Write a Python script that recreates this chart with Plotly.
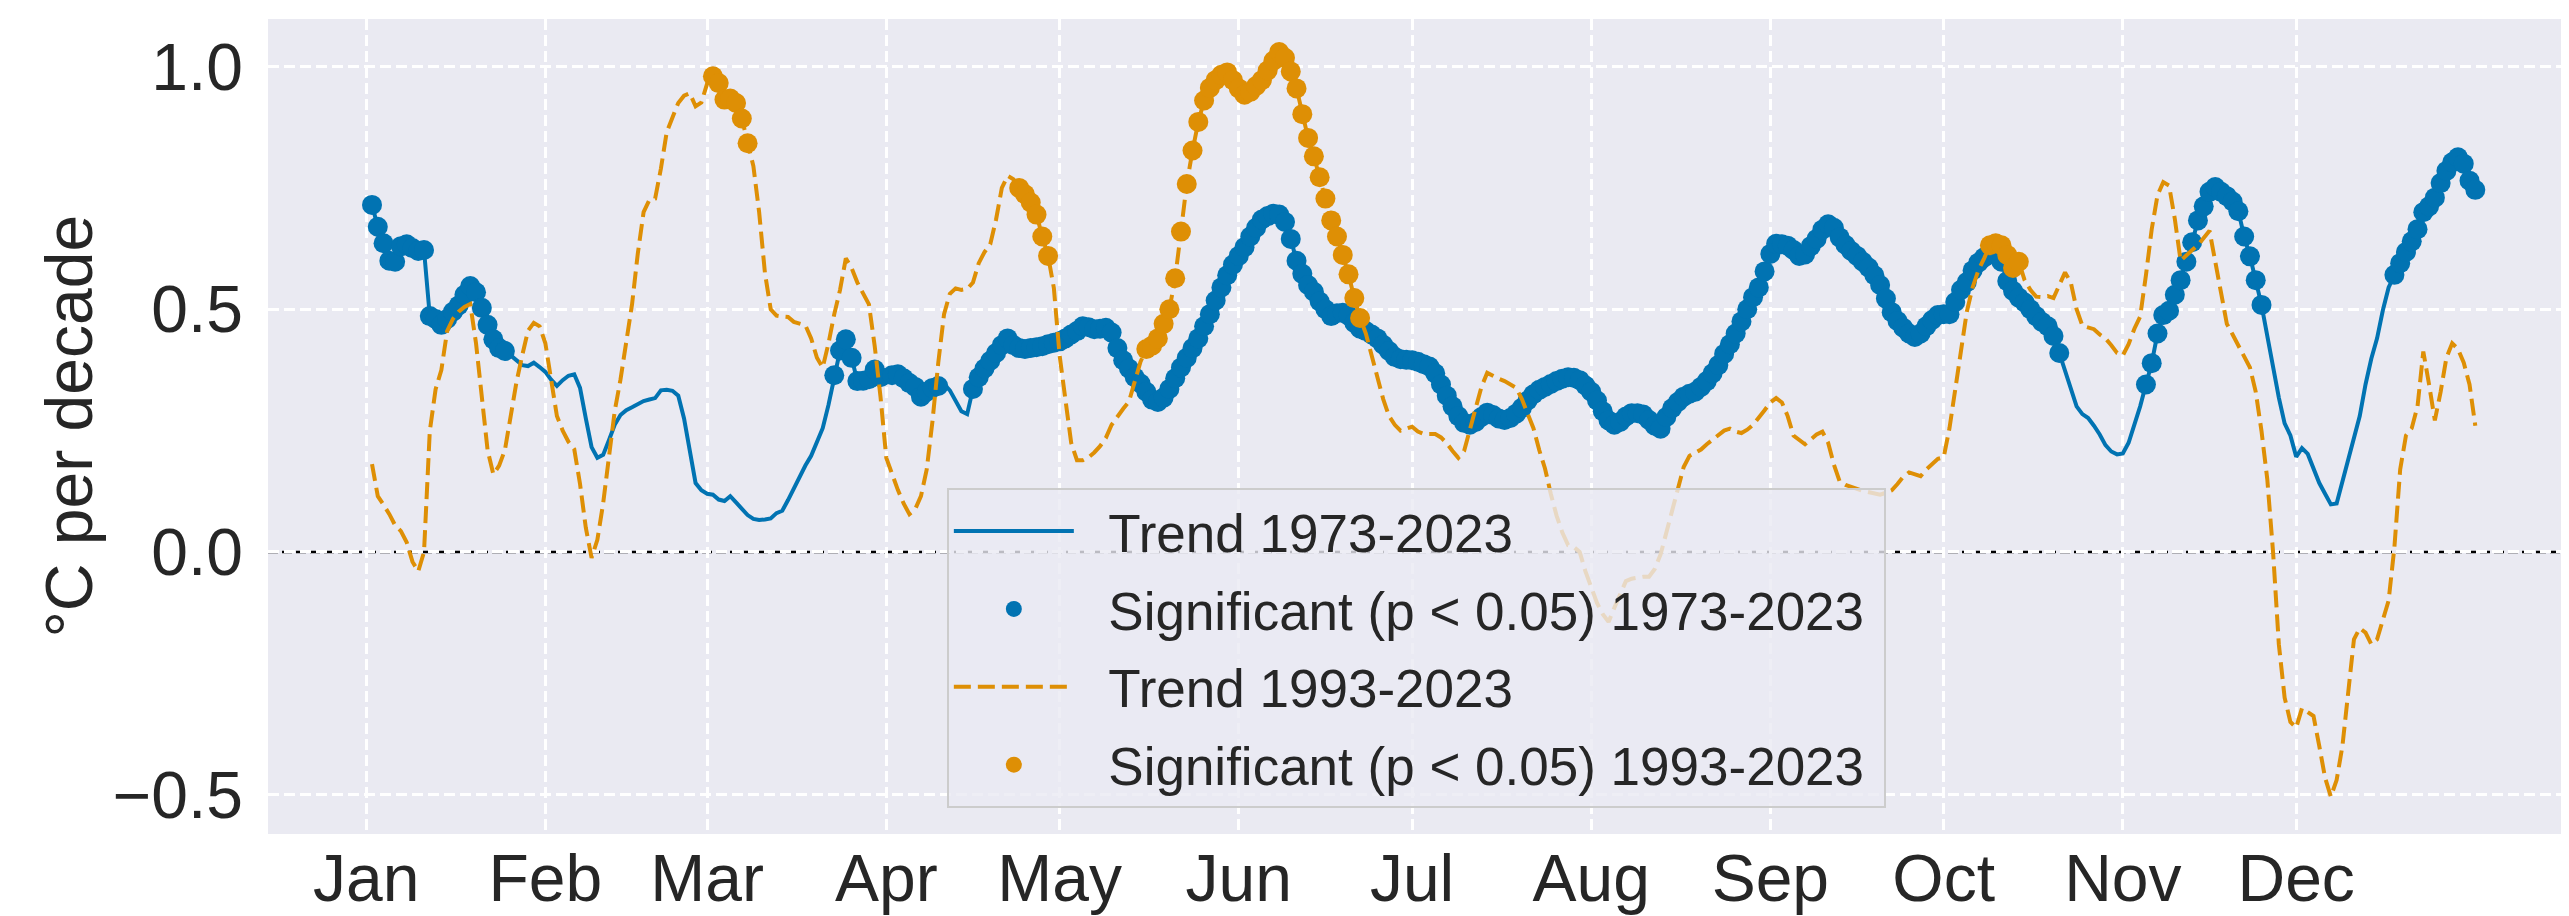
import plotly.graph_objects as go

# ---------------- data ----------------
month_days = [1, 32, 60, 91, 121, 152, 182, 213, 244, 274, 305, 335]
month_labels = ["Jan", "Feb", "Mar", "Apr", "May", "Jun",
                "Jul", "Aug", "Sep", "Oct", "Nov", "Dec"]
y_ticks = [-0.5, 0.0, 0.5, 1.0]

first_day = 2  # day-of-year of the first value

# Trend 1973-2023 (degC per decade), one value per day starting at day 2
trend_1973 = [
    0.715, 0.670, 0.636, 0.600, 0.598, 0.630, 0.634, 0.626, 0.620, 0.622,  # d2
    0.486, 0.480, 0.468, 0.480, 0.495, 0.508, 0.530, 0.548, 0.535, 0.503,  # d12
    0.468, 0.438, 0.420, 0.414, 0.405, 0.395, 0.385, 0.383, 0.390, 0.381,  # d22
    0.371, 0.355, 0.342, 0.354, 0.363, 0.366, 0.338, 0.275, 0.216, 0.194,  # d32
    0.200, 0.230, 0.262, 0.282, 0.292, 0.298, 0.305, 0.311, 0.314, 0.317,  # d42
    0.333, 0.334, 0.332, 0.322, 0.275, 0.205, 0.142, 0.127, 0.120, 0.118,  # d52
    0.108, 0.105, 0.115, 0.102, 0.088, 0.076, 0.068, 0.066, 0.067, 0.069,  # d62
    0.080, 0.085, 0.107, 0.131, 0.156, 0.178, 0.198, 0.225, 0.255, 0.303,  # d72
    0.364, 0.415, 0.438, 0.400, 0.352, 0.353, 0.356, 0.376, 0.360, 0.358,  # d82
    0.364, 0.366, 0.358, 0.348, 0.340, 0.320, 0.330, 0.338, 0.342, 0.346,  # d92
    0.333, 0.312, 0.290, 0.284, 0.336, 0.360, 0.378, 0.394, 0.410, 0.426,  # d102
    0.440, 0.426, 0.420, 0.418, 0.420, 0.422, 0.424, 0.428, 0.431, 0.434,  # d112
    0.440, 0.448, 0.455, 0.465, 0.463, 0.459, 0.460, 0.462, 0.452, 0.420,  # d122
    0.395, 0.378, 0.360, 0.347, 0.330, 0.314, 0.309, 0.318, 0.336, 0.358,  # d132
    0.380, 0.400, 0.420, 0.440, 0.465, 0.490, 0.518, 0.545, 0.570, 0.592,  # d142
    0.610, 0.628, 0.650, 0.668, 0.685, 0.692, 0.697, 0.695, 0.680, 0.645,  # d152
    0.600, 0.573, 0.550, 0.536, 0.516, 0.500, 0.486, 0.492, 0.493, 0.487,  # d162
    0.472, 0.460, 0.455, 0.448, 0.440, 0.427, 0.414, 0.402, 0.397, 0.396,  # d172
    0.395, 0.392, 0.387, 0.382, 0.368, 0.345, 0.322, 0.300, 0.280, 0.266,  # d182
    0.262, 0.268, 0.278, 0.287, 0.282, 0.275, 0.272, 0.276, 0.285, 0.297,  # d192
    0.312, 0.325, 0.334, 0.340, 0.346, 0.352, 0.357, 0.360, 0.359, 0.354,  # d202
    0.343, 0.330, 0.312, 0.290, 0.271, 0.262, 0.268, 0.279, 0.286, 0.286,  # d212
    0.283, 0.272, 0.260, 0.254, 0.278, 0.296, 0.309, 0.320, 0.326, 0.330,  # d222
    0.340, 0.352, 0.368, 0.385, 0.408, 0.428, 0.450, 0.475, 0.500, 0.525,  # d232
    0.545, 0.578, 0.614, 0.635, 0.634, 0.631, 0.622, 0.610, 0.613, 0.630,  # d242
    0.645, 0.664, 0.675, 0.668, 0.648, 0.633, 0.620, 0.610, 0.598, 0.586,  # d252
    0.570, 0.550, 0.522, 0.494, 0.476, 0.462, 0.450, 0.443, 0.450, 0.465,  # d262
    0.478, 0.488, 0.490, 0.490, 0.515, 0.540, 0.556, 0.580, 0.596, 0.607,  # d272
    0.613, 0.615, 0.598, 0.558, 0.538, 0.524, 0.514, 0.500, 0.486, 0.474,  # d282
    0.465, 0.445, 0.410, 0.372, 0.336, 0.300, 0.284, 0.276, 0.260, 0.242,  # d292
    0.220, 0.207, 0.201, 0.203, 0.225, 0.262, 0.300, 0.345, 0.389, 0.450,  # d302
    0.488, 0.497, 0.530, 0.560, 0.598, 0.638, 0.683, 0.712, 0.742, 0.752,  # d312
    0.742, 0.733, 0.722, 0.702, 0.650, 0.609, 0.560, 0.509, 0.445, 0.378,  # d322
    0.318, 0.265, 0.240, 0.196, 0.214, 0.202, 0.172, 0.142, 0.120, 0.098,  # d332
    0.100, 0.145, 0.195, 0.240, 0.280, 0.345, 0.398, 0.440, 0.498, 0.545,  # d342
    0.571, 0.595, 0.618, 0.640, 0.665, 0.700, 0.712, 0.730, 0.760, 0.785,  # d352
    0.803, 0.813, 0.800, 0.765, 0.746,                                     # d362
]

# Trend 1993-2023 (degC per decade)
trend_1993 = [
    0.181, 0.115, 0.097, 0.078, 0.055, 0.043, 0.020, -0.020, -0.040, 0.000,  # d2
    0.249, 0.335, 0.375, 0.455, 0.480, 0.495, 0.505, 0.511, 0.430, 0.320,    # d12
    0.210, 0.160, 0.178, 0.210, 0.280, 0.350, 0.405, 0.456, 0.472, 0.465,    # d22
    0.430, 0.350, 0.280, 0.250, 0.227, 0.212, 0.140, 0.050, -0.012, 0.025,   # d32
    0.100, 0.195, 0.290, 0.355, 0.430, 0.510, 0.615, 0.700, 0.725, 0.728,    # d42
    0.790, 0.865, 0.895, 0.925, 0.940, 0.945, 0.918, 0.926, 0.965, 0.980,    # d52
    0.966, 0.932, 0.934, 0.925, 0.893, 0.842, 0.795, 0.700, 0.575, 0.500,    # d62
    0.487, 0.485, 0.484, 0.474, 0.470, 0.467, 0.440, 0.400, 0.380, 0.430,    # d72
    0.490, 0.540, 0.605, 0.585, 0.555, 0.533, 0.510, 0.424, 0.320, 0.194,    # d82
    0.160, 0.128, 0.100, 0.078, 0.088, 0.115, 0.170, 0.270, 0.390, 0.490,    # d92
    0.532, 0.543, 0.540, 0.542, 0.555, 0.595, 0.618, 0.634, 0.685, 0.750,    # d102
    0.775, 0.768, 0.750, 0.737, 0.720, 0.695, 0.650, 0.610, 0.544, 0.405,    # d112
    0.314, 0.225, 0.189, 0.189, 0.195, 0.205, 0.218, 0.235, 0.262, 0.280,    # d122
    0.295, 0.310, 0.353, 0.392, 0.418, 0.425, 0.440, 0.470, 0.500, 0.564,    # d132
    0.660, 0.758, 0.827, 0.886, 0.930, 0.956, 0.972, 0.983, 0.988, 0.972,    # d142
    0.955, 0.942, 0.948, 0.960, 0.972, 0.992, 1.012, 1.030, 1.018, 0.990,    # d152
    0.955, 0.902, 0.853, 0.815, 0.772, 0.728, 0.683, 0.650, 0.612, 0.572,    # d162
    0.523, 0.482, 0.450, 0.405, 0.360, 0.315, 0.280, 0.262, 0.250, 0.255,    # d172
    0.258, 0.248, 0.243, 0.243, 0.243, 0.236, 0.224, 0.208, 0.194, 0.208,    # d182
    0.250, 0.295, 0.340, 0.369, 0.362, 0.357, 0.352, 0.346, 0.338, 0.315,    # d192
    0.285, 0.255, 0.210, 0.172, 0.120, 0.075, 0.040, 0.014, 0.010, 0.000,    # d202
    -0.040, -0.072, -0.105, -0.128, -0.144, -0.115, -0.085, -0.060, -0.055, -0.052,  # d212
    -0.051, -0.051, -0.035, -0.005, 0.040, 0.080, 0.130, 0.175, 0.198, 0.205,  # d222
    0.211, 0.222, 0.231, 0.240, 0.250, 0.254, 0.248, 0.245, 0.252, 0.262,    # d232
    0.276, 0.292, 0.308, 0.317, 0.308, 0.280, 0.240, 0.230, 0.222, 0.232,    # d242
    0.242, 0.248, 0.225, 0.180, 0.145, 0.138, 0.135, 0.130, 0.126, 0.123,    # d252
    0.120, 0.118, 0.122, 0.127, 0.140, 0.155, 0.164, 0.160, 0.156, 0.170,    # d262
    0.182, 0.192, 0.195, 0.255, 0.335, 0.420, 0.495, 0.545, 0.580, 0.605,    # d272
    0.632, 0.636, 0.632, 0.612, 0.585, 0.598, 0.560, 0.540, 0.526, 0.525,    # d282
    0.527, 0.523, 0.550, 0.576, 0.555, 0.500, 0.466, 0.462, 0.459, 0.448,    # d292
    0.440, 0.426, 0.410, 0.405, 0.428, 0.460, 0.485, 0.570, 0.665, 0.735,    # d302
    0.762, 0.755, 0.686, 0.600, 0.612, 0.622, 0.632, 0.648, 0.662, 0.598,    # d312
    0.530, 0.470, 0.448, 0.425, 0.400, 0.380, 0.330, 0.249, 0.150, 0.000,    # d322
    -0.190, -0.300, -0.350, -0.362, -0.322, -0.330, -0.338, -0.400, -0.465, -0.504,  # d332
    -0.470, -0.400, -0.290, -0.180, -0.157, -0.166, -0.190, -0.180, -0.140, -0.100,  # d342
    0.010, 0.170, 0.240, 0.255, 0.300, 0.413, 0.345, 0.271, 0.330, 0.400,    # d352
    0.430, 0.418, 0.390, 0.345, 0.260,                                       # d362
]

# day ranges (inclusive) where the trend is significant (p < 0.05)
sig_1973_ranges = [(2, 25), (82, 90), (92, 100), (106, 294), (309, 329), (352, 366)]
sig_1993_ranges = [(61, 67), (114, 119), (136, 173), (282, 287)]

legend_names = ["Trend 1973-2023", "Significant (p &lt; 0.05) 1973-2023",
                "Trend 1993-2023", "Significant (p &lt; 0.05) 1993-2023"]

# ---------------- build figure ----------------
days = list(range(first_day, first_day + len(trend_1973)))


def significant(values, ranges):
    xs, ys = [], []
    for d, v in zip(days, values):
        if any(a <= d <= b for a, b in ranges):
            xs.append(d)
            ys.append(v)
    return xs, ys


def pad(name):
    # small gap between the legend symbol and its label, like matplotlib
    return "\u00a0\u00a0" + name + "\u00a0"


BLUE = "#0173B2"
ORANGE = "#DE8F05"
FONT = "Liberation Sans, Arial, Helvetica, sans-serif"
TXT = "#262626"

fig = go.Figure()
fig.add_trace(go.Scatter(
    x=days, y=trend_1973, mode="lines", name=pad(legend_names[0]),
    line=dict(color=BLUE, width=4), legendgroup="a"))
sx, sy = significant(trend_1973, sig_1973_ranges)
fig.add_trace(go.Scatter(
    x=sx, y=sy, mode="markers", name=pad(legend_names[1]),
    marker=dict(color=BLUE, size=20, line=dict(width=0)), legendgroup="b"))
fig.add_trace(go.Scatter(
    x=days, y=trend_1993, mode="lines", name=pad(legend_names[2]),
    line=dict(color=ORANGE, width=4, dash="17px,7px"), legendgroup="c"))
ox, oy = significant(trend_1993, sig_1993_ranges)
fig.add_trace(go.Scatter(
    x=ox, y=oy, mode="markers", name=pad(legend_names[3]),
    marker=dict(color=ORANGE, size=20, line=dict(width=0)), legendgroup="d"))

# zero reference line
fig.add_shape(type="line", xref="paper", x0=0, x1=1, yref="y", y0=0, y1=0,
              line=dict(color="black", width=2.5, dash="10px,4px"), layer="between")

# y-axis label
fig.add_annotation(text="°C per decade", xref="paper", yref="paper",
                   x=-0.0866, y=0.5, xanchor="center", yanchor="middle",
                   textangle=-90, showarrow=False,
                   font=dict(family=FONT, size=66, color=TXT))

grid = dict(showgrid=True, gridcolor="white", gridwidth=2.5, griddash="11px,5px",
            zeroline=False, showline=False, ticks="",
            tickfont=dict(family=FONT, size=66, color=TXT))

fig.update_layout(
    width=2569, height=916,
    margin=dict(l=260, r=0, t=11, b=90),
    paper_bgcolor="white", plot_bgcolor="#EAEAF2",
    font=dict(family=FONT, color=TXT),
    showlegend=True,
    legend=dict(x=0.294, y=0.4245, xanchor="left", yanchor="top",
                bgcolor="rgba(234,234,242,0.8)", bordercolor="#cccccc", borderwidth=2,
                font=dict(family=FONT, size=53, color=TXT),
                traceorder="grouped", tracegroupgap=6, itemwidth=120),
    xaxis=dict(range=[-16.0, 383.6], tickvals=month_days, ticktext=month_labels, **grid),
    yaxis=dict(range=[-0.581, 1.098], tickvals=y_ticks, tickformat=".1f",
               ticklabelstandoff=24, **grid),
)

fig.write_html("out.html")
